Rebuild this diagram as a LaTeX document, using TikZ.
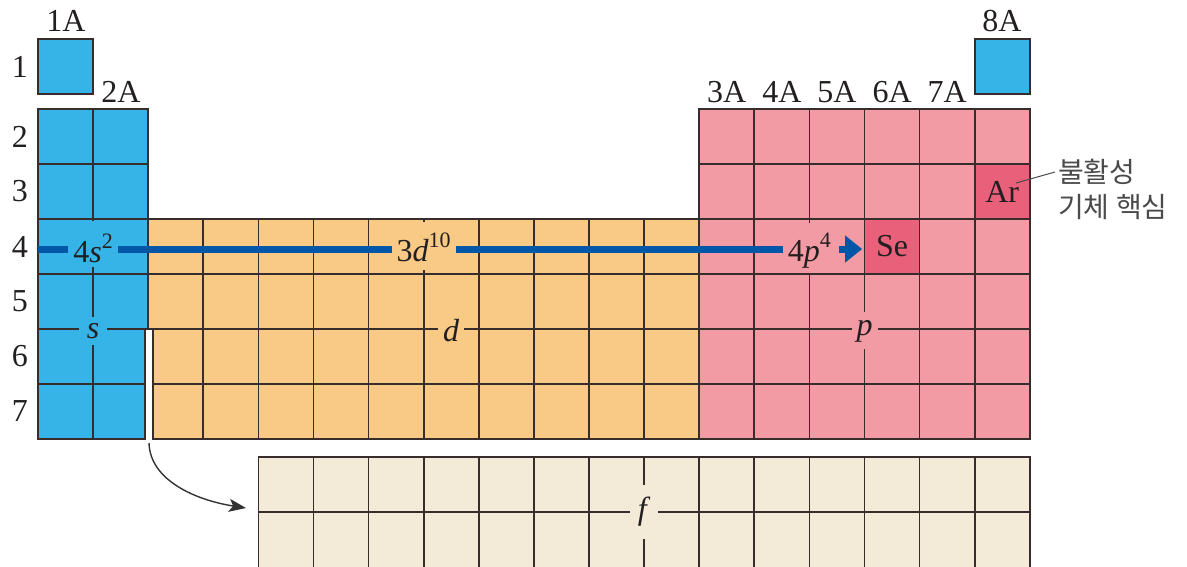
\documentclass[tikz,border=0pt]{standalone}
\usepackage{fontspec}
\setmainfont{Liberation Serif}
\newfontfamily\kfont{Noto Sans CJK KR}
\usetikzlibrary{arrows.meta}
\definecolor{sC}{HTML}{36B4E8}
\definecolor{dC}{HTML}{F8CA86}
\definecolor{pC}{HTML}{F29BA5}
\definecolor{hC}{HTML}{E8607A}
\definecolor{fC}{HTML}{F4EAD8}
\definecolor{gridC}{HTML}{372D2D}
\definecolor{blueC}{HTML}{0057A8}
\definecolor{txtC}{HTML}{231F20}
\definecolor{korC}{HTML}{4A4A4A}
\definecolor{arrC}{HTML}{333333}
\newcommand\spx[1]{\raisebox{0.42em}{\fontsize{22}{24}\selectfont #1}}
\begin{document}
\begin{tikzpicture}[x=1pt,y=-1pt,
  cellS/.style={fill=sC,draw=gridC,line width=1.7pt},
  cellD/.style={fill=dC,draw=gridC,line width=1.7pt},
  cellP/.style={fill=pC,draw=gridC,line width=1.7pt},
  cellF/.style={fill=fC,draw=gridC,line width=1.7pt},
  hlcell/.style={fill=hC,draw=gridC,line width=1.7pt,minimum width=55.1pt,minimum height=55pt,inner sep=0pt,
     text=txtC,font=\fontsize{32}{34}\selectfont},
  lab/.style={text=txtC,font=\fontsize{32}{34}\selectfont,inner sep=0pt},
  blk/.style={text=txtC,font=\fontsize{32}{34}\selectfont},
  kor/.style={text=korC,font=\kfont\fontsize{28}{33}\selectfont,inner sep=0pt,anchor=west},
  blueln/.style={draw=blueC,line width=7pt},
  bluearr/.style={draw=blueC,line width=7pt,-{Triangle[length=17pt,width=26pt]}},
  curvarr/.style={draw=arrC,line width=1.4pt,-{Stealth[length=17pt,width=13pt,inset=4pt]}},
  leader/.style={draw=korC,line width=1pt}]
\useasboundingbox (0,0) rectangle (1187,566);
\def\w{55.1}
% ---- s block ----
\path[cellS] (38,39) rectangle ({38+\w},94);
\path[cellS] ({38+17*\w},39) rectangle ({38+18*\w},94);
\foreach \r in {0,...,3}{
  \foreach \c in {0,1}{
    \path[cellS] ({38+\c*\w},{109+55*\r}) rectangle ({38+(\c+1)*\w},{164+55*\r});
  }
}
\foreach \r in {4,5}{
  \path[cellS] (38,{109+55*\r}) rectangle ({38+\w},{164+55*\r});
  \path[cellS] ({38+\w},{109+55*\r}) rectangle (145,{164+55*\r});
}
% ---- d block ----
\foreach \r in {2,3}{
  \foreach \c in {2,...,11}{
    \path[cellD] ({38+\c*\w},{109+55*\r}) rectangle ({38+(\c+1)*\w},{164+55*\r});
  }
}
\foreach \r in {4,5}{
  \path[cellD] (153,{109+55*\r}) rectangle ({38+3*\w},{164+55*\r});
  \foreach \c in {3,...,11}{
    \path[cellD] ({38+\c*\w},{109+55*\r}) rectangle ({38+(\c+1)*\w},{164+55*\r});
  }
}
% ---- p block ----
\foreach \r in {0,...,5}{
  \foreach \c in {12,...,17}{
    \path[cellP] ({38+\c*\w},{109+55*\r}) rectangle ({38+(\c+1)*\w},{164+55*\r});
  }
}
% ---- f block (runs off the lower edge) ----
\foreach \c in {4,...,17}{
  \path[cellF] ({38+\c*\w},457) rectangle ({38+(\c+1)*\w},512);
  \path[cellF] ({38+\c*\w},512) rectangle ({38+(\c+1)*\w},580);
}
% ---- highlighted cells ----
\node[hlcell] (Se) at ({38+15.5*\w},246.5) {Se};
\node[hlcell] (Ar) at ({38+17.5*\w},191.5) {Ar};
% ---- row numbers ----
\node[lab] (row1) at (20,66.5) {1};
\foreach \r in {2,...,7}{
  \node[lab] (row\r) at (20,{136.5+55*(\r-2)}) {\r};
}
% ---- group labels ----
\node[lab] (g1A) at (66,21) {1A};
\node[lab] (g2A) at (121,92) {2A};
\foreach \g [count=\i from 0] in {3,4,5,6,7}{
  \node[lab] (g\g A) at ({38+(12.5+\i)*\w},92) {\g A};
}
\node[lab] (g8A) at (1002,21) {8A};
% ---- 4th period line ----
\coordinate (bstart) at (38,249);
\node[blk,fill=pC,anchor=base,inner xsep=5pt,inner ysep=3pt,text height=35pt,text depth=9pt]
  (p4) at ({38+14*\w},261) {4\textit{p}\spx{4}};
\draw[blueln] (bstart) -- (p4.west |- bstart);
\node[blk,fill=sC,anchor=base,inner xsep=5pt,inner ysep=5pt,text height=36pt,text depth=0pt]
  (s2) at ({38+\w},262) {4\textit{s}\spx{2}};
\node[blk,fill=dC,anchor=base,inner xsep=5pt,inner ysep=5pt,text height=34pt,text depth=4pt]
  (d10) at ({38+7*\w},261) {3\textit{d}\spx{10}};
\draw[bluearr,shorten <=3pt,shorten >=1.5pt] (p4.east |- bstart) -- (Se.west |- bstart);
% ---- block letters ----
\node[blk,fill=sC,anchor=base,inner xsep=8pt,inner ysep=5pt,text height=16pt,text depth=2pt]
  (sl) at ({38+\w},338) {\textit{s}};
\node[blk,fill=dC,anchor=base,inner xsep=5pt,inner ysep=4pt]
  (dl) at ({38+7.5*\w},341) {\textit{d}};
\node[blk,fill=pC,anchor=base,inner xsep=5pt,inner ysep=7pt,text height=16pt,text depth=7pt]
  (pl) at ({38+15*\w},335) {\textit{p}};
\node[blk,fill=fC,inner sep=0pt,minimum width=28pt,minimum height=54pt]
  (fl) at ({38+11*\w},512) {\textit{f}};
% ---- curved arrow to f block ----
\coordinate (fstart) at (149,443);
\coordinate (fend) at (246,508);
\draw[curvarr] (fstart) .. controls (150,480) and (195,500) .. (fend);
% ---- noble gas core note ----
\node[kor] (kor1) at (1058,172) {불활성};
\node[kor] (kor2) at (1058,207) {기체 핵심};
\coordinate (lead) at (1016,183);
\draw[leader] (lead) -- ([xshift=-3pt]kor1.west);
\end{tikzpicture}
\end{document}
